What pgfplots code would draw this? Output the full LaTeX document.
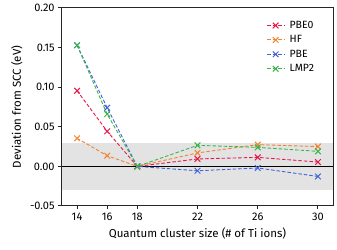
\documentclass[border=0pt]{standalone}
\usepackage{pgfplots}
\pgfplotsset{compat=1.18}
\usepackage{fontspec}
\setmainfont{Fira Sans}
\definecolor{cpbe0}{HTML}{E6194B}
\definecolor{chf}{HTML}{F58231}
\definecolor{cpbe}{HTML}{4363D8}
\definecolor{clmp}{HTML}{3CB44B}
\begin{document}
\fontsize{11}{13}\selectfont
\begin{tikzpicture}[x=1pt,y=1pt]
\begin{axis}[
  scale only axis, width=271pt, height=198pt,
  xmin=13, xmax=31, ymin=-0.05, ymax=0.2,
  xtick={14,16,18,22,26,30},
  ytick={-0.05,0,0.05,0.10,0.15,0.20},
  yticklabel style={/pgf/number format/.cd, fixed, fixed zerofill, precision=2},
  /pgf/number format/assume math mode=true,
  tick align=outside, tick pos=left,
  major tick length=3.5pt,
  axis line style={line width=1pt, black!85},
  every tick/.style={line width=1pt, black!85},
  xlabel={Quantum cluster size (\# of Ti ions)},
  ylabel={Deviation from SCC (eV)},
  tick label style={font=\fontsize{11}{13}\selectfont},
  label style={font=\fontsize{11.5}{13}\selectfont},
  xlabel style={yshift=1pt},
  legend style={draw=none, fill=none, at={(0.96,0.955)}, anchor=north east,
    font=\fontsize{10.5}{12.5}\selectfont, row sep=1.5pt, nodes={inner xsep=5pt}},
  legend cell align=left,
  every axis plot/.append style={line width=0.9pt, dash pattern=on 3.5pt off 2pt, mark=x, mark size=4pt, mark options={solid, line width=1pt}},
  clip=true,
]
\fill[black!11] (axis cs:13,-0.03) rectangle (axis cs:31,0.03);
\draw[black, line width=1pt] (axis cs:13,0) -- (axis cs:31,0);
\coordinate (bl) at (rel axis cs:0,0);
\coordinate (tr) at (rel axis cs:1,1);
\addplot[color=cpbe0] coordinates {(14,0.0955) (16,0.0443) (18,0.0) (22,0.0094) (26,0.0114) (30,0.0055)};
\addlegendentry{PBE0}
\addplot[color=chf] coordinates {(14,0.0355) (16,0.0135) (18,0.0) (22,0.017) (26,0.0275) (30,0.025)};
\addlegendentry{HF}
\addplot[color=cpbe] coordinates {(14,0.153) (16,0.074) (18,0.0) (22,-0.0055) (26,-0.002) (30,-0.0127)};
\addlegendentry{PBE}
\addplot[color=clmp] coordinates {(14,0.153) (16,0.066) (18,0.0) (22,0.0266) (26,0.024) (30,0.019)};
\addlegendentry{LMP2}
\end{axis}
\pgfresetboundingbox
\path[use as bounding box] ([xshift=-62pt,yshift=-44pt]bl) rectangle ([xshift=4pt,yshift=8pt]tr);
\end{tikzpicture}
\end{document}
